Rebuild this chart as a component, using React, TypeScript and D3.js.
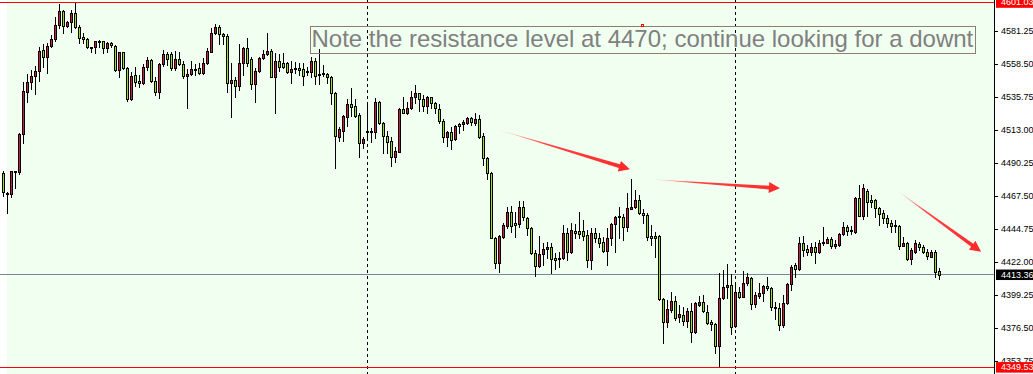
import React, { useEffect, useRef } from 'react';
import * as d3 from 'd3';

// OHLC values (one candle per bar, oldest first)
const openP = [
4483.1,4469.9,4468.6,4484.4,4483.8,4510.0,4539.4,4546.2,4550.2,4553.6,
4568.1,4563.1,4570.9,4575.7,4585.4,4595.0,4584.9,4587.2,4593.4,4583.8,
4577.3,4575.5,4570.0,4570.0,4574.1,4574.1,4569.3,4572.7,4571.1,4554.3,
4566.5,4555.5,4534.2,4550.9,4546.7,4545.2,4556.2,4561.0,4546.7,4539.0,
4558.5,4565.4,4565.4,4555.9,4561.7,4558.3,4550.4,4551.6,4555.0,4555.5,
4552.1,4559.0,4567.0,4579.7,4583.8,4579.2,4577.8,4545.2,4547.4,4543.5,
4559.0,4569.3,4561.7,4544.7,4553.8,4562.4,4565.4,4567.4,4549.7,4560.5,
4559.0,4559.4,4553.2,4555.0,4555.5,4554.8,4552.8,4553.2,4560.5,4551.6,
4551.6,4551.6,4549.3,4538.3,4508.4,4512.5,4522.1,4530.9,4529.5,4523.3,
4504.2,4512.3,4512.1,4511.4,4532.1,4518.0,4508.8,4505.4,4494.6,4498.0,
4527.5,4524.9,4527.9,4535.5,4538.3,4534.2,4529.7,4535.5,4531.8,4527.2,
4519.4,4508.4,4511.8,4506.6,4517.1,4516.9,4518.0,4521.5,4517.6,4520.6,
4508.8,4493.5,4483.1,4438.7,4421.1,4439.4,4446.8,4456.2,4448.7,4448.0,
4460.1,4452.1,4445.2,4428.0,4419.4,4427.5,4430.7,4432.5,4424.5,4423.8,
4424.5,4441.8,4429.1,4443.4,4443.4,4443.4,4440.6,4423.4,4441.8,4438.3,
4435.9,4429.6,4438.3,4448.2,4452.8,4452.8,4445.9,4458.7,4459.7,4464.7,
4455.8,4454.2,4439.9,4439.9,4439.9,4396.3,4380.8,4388.9,4395.1,4383.9,
4385.5,4381.5,4388.2,4373.9,4392.4,4394.2,4387.7,4380.4,4379.2,4364.1,
4397.0,4404.6,4406.1,4377.9,4401.1,4398.1,4407.3,4410.7,4392.8,4398.7,
4400.6,4405.4,4404.3,4391.2,4390.5,4378.6,4393.5,4406.6,4419.9,4417.0,
4435.3,4430.9,4429.1,4432.1,4429.1,4434.9,4435.3,4437.6,4433.2,4433.7,
4441.3,4446.0,4443.6,4442.9,4465.9,4453.7,4471.1,4464.7,4464.7,4459.0,
4455.6,4452.1,4448.7,4447.5,4446.8,4433.2,4435.3,4423.8,4429.1,4434.4,
4432.5,4429.1,4425.7,4429.1,4415.8];

const highP = [
4484.9,4470.2,4484.7,4484.7,4511.1,4546.2,4551.5,4554.3,4557.1,4570.0,
4572.1,4573.2,4578.5,4590.7,4600.0,4595.7,4588.3,4595.7,4601.03,4585.4,
4579.7,4576.2,4570.4,4574.5,4575.0,4574.5,4573.9,4573.6,4571.6,4567.0,
4567.0,4556.6,4553.2,4556.6,4550.9,4558.5,4563.1,4561.7,4549.7,4559.4,
4568.1,4566.5,4567.0,4567.7,4566.5,4560.5,4554.8,4560.5,4558.5,4559.0,
4562.4,4569.3,4583.1,4585.9,4585.4,4580.1,4578.9,4559.0,4549.7,4572.1,
4570.4,4576.2,4563.1,4555.5,4563.1,4568.1,4579.7,4568.6,4565.9,4565.4,
4565.9,4560.1,4560.5,4560.1,4559.0,4559.0,4556.6,4563.5,4562.4,4568.8,
4557.8,4552.5,4550.2,4539.4,4515.3,4523.3,4534.2,4541.7,4534.2,4524.5,
4508.4,4532.5,4514.2,4534.9,4533.0,4518.5,4512.5,4508.4,4501.1,4527.9,
4535.9,4532.5,4540.1,4544.0,4538.7,4537.1,4536.4,4535.9,4532.5,4530.7,
4520.4,4512.0,4515.3,4516.4,4517.6,4519.9,4522.1,4522.1,4524.5,4523.3,
4511.1,4494.6,4484.2,4439.4,4440.5,4448.7,4459.7,4460.6,4456.7,4464.2,
4464.0,4453.2,4446.3,4430.2,4439.9,4435.3,4435.9,4435.3,4428.4,4429.1,
4447.5,4445.2,4448.7,4448.0,4456.7,4450.9,4444.0,4445.2,4445.2,4441.8,
4439.4,4445.2,4448.7,4453.7,4460.1,4455.1,4469.3,4479.2,4471.6,4468.2,
4458.3,4455.6,4447.5,4442.9,4440.6,4397.0,4395.8,4401.5,4398.5,4392.4,
4391.2,4390.0,4393.5,4394.6,4398.5,4399.2,4392.4,4382.0,4379.7,4414.2,
4416.5,4420.4,4413.5,4407.3,4405.0,4415.8,4414.6,4411.9,4401.5,4407.3,
4406.1,4411.9,4405.0,4394.6,4393.5,4399.2,4407.3,4419.9,4421.1,4439.4,
4439.9,4433.7,4435.3,4436.0,4437.1,4446.0,4439.4,4439.4,4437.1,4441.8,
4449.8,4447.5,4446.8,4467.0,4475.1,4475.8,4472.1,4468.2,4465.2,4459.7,
4457.8,4454.4,4450.9,4450.9,4447.5,4439.4,4436.0,4431.4,4437.1,4436.0,
4433.7,4430.7,4430.3,4430.3,4418.1];

const lowP = [
4467.7,4455.7,4466.8,4473.0,4482.9,4504.2,4532.1,4541.0,4537.6,4546.7,
4556.4,4552.1,4570.2,4574.3,4583.5,4579.7,4583.8,4580.8,4583.1,4573.2,
4572.7,4569.3,4566.8,4565.9,4570.4,4565.9,4567.0,4570.4,4553.6,4549.3,
4554.8,4533.0,4533.7,4543.3,4542.8,4544.5,4554.3,4546.2,4537.1,4535.3,
4557.1,4557.8,4554.3,4554.3,4557.8,4549.0,4528.0,4550.9,4550.9,4551.6,
4551.6,4558.3,4566.5,4579.0,4572.1,4572.1,4539.4,4521.7,4535.9,4540.6,
4550.9,4557.3,4541.0,4532.5,4553.2,4561.7,4564.7,4549.3,4524.9,4553.8,
4555.5,4552.5,4545.2,4552.1,4550.9,4544.0,4550.9,4549.7,4544.5,4544.7,
4550.2,4545.2,4530.9,4487.0,4505.4,4505.6,4515.8,4522.6,4522.1,4494.6,
4500.9,4506.1,4504.9,4507.3,4517.1,4497.3,4496.9,4488.2,4491.1,4497.6,
4524.5,4524.0,4527.2,4531.8,4526.3,4526.1,4524.5,4528.4,4524.5,4517.6,
4504.9,4501.7,4499.7,4506.1,4510.7,4513.0,4516.9,4516.4,4516.4,4507.3,
4488.9,4479.2,4438.3,4417.6,4415.3,4438.3,4445.2,4442.8,4439.0,4446.3,
4450.9,4440.6,4427.6,4412.3,4418.7,4419.9,4424.5,4414.2,4417.0,4418.7,
4423.8,4423.4,4428.4,4438.3,4438.3,4437.1,4418.7,4417.0,4435.9,4432.1,
4429.1,4419.9,4433.7,4429.1,4438.3,4437.1,4443.6,4458.3,4459.0,4455.1,
4448.7,4437.1,4433.7,4425.6,4395.8,4366.3,4377.4,4387.7,4382.0,4380.8,
4378.6,4377.4,4367.0,4372.8,4391.7,4387.7,4379.2,4375.1,4359.0,4349.53,
4396.7,4397.0,4372.3,4377.4,4397.0,4397.6,4406.1,4389.4,4391.2,4397.0,
4395.3,4402.7,4388.9,4382.5,4375.1,4377.4,4393.0,4402.7,4411.9,4416.5,
4426.1,4426.8,4426.8,4421.1,4428.0,4433.7,4434.9,4431.4,4431.4,4433.0,
4440.6,4440.6,4441.3,4442.2,4453.7,4451.4,4453.7,4460.1,4453.2,4447.5,
4448.7,4446.3,4442.9,4442.9,4430.7,4433.0,4423.4,4420.4,4428.4,4430.3,
4428.0,4423.8,4425.2,4411.9,4410.5];

const closeP = [
4470.0,4468.8,4484.5,4484.7,4510.0,4539.9,4546.2,4550.2,4553.6,4567.4,
4563.1,4570.9,4575.7,4585.4,4595.0,4584.9,4587.2,4593.4,4583.8,4576.6,
4575.5,4570.0,4569.9,4574.1,4574.3,4569.3,4572.7,4571.6,4554.3,4566.5,
4555.5,4534.2,4550.2,4546.2,4545.2,4556.2,4561.0,4546.7,4539.0,4558.5,
4565.4,4561.9,4555.9,4561.7,4558.3,4550.4,4551.6,4555.0,4555.2,4552.1,
4559.0,4567.4,4579.7,4583.8,4579.2,4577.8,4545.2,4547.4,4543.5,4559.0,
4569.3,4559.0,4544.7,4553.8,4562.4,4565.4,4567.4,4549.7,4560.5,4556.6,
4556.6,4553.2,4554.8,4555.5,4554.5,4550.4,4553.8,4560.5,4550.4,4551.4,
4552.1,4549.3,4538.3,4508.6,4513.5,4522.6,4530.9,4529.0,4522.8,4504.2,
4506.8,4511.4,4512.3,4532.1,4517.6,4508.8,4504.9,4494.6,4498.7,4527.5,
4524.9,4527.9,4535.9,4538.7,4534.2,4529.7,4535.9,4531.4,4527.9,4519.4,
4508.4,4511.8,4506.1,4515.8,4515.8,4518.5,4521.5,4518.3,4520.4,4508.4,
4493.5,4483.1,4438.7,4421.1,4439.9,4447.5,4456.2,4446.8,4447.5,4460.1,
4452.8,4445.2,4428.0,4419.4,4427.5,4430.7,4432.5,4423.8,4423.4,4424.9,
4441.8,4429.1,4444.0,4441.8,4441.1,4439.9,4423.4,4441.8,4438.3,4435.3,
4429.6,4438.3,4448.2,4453.2,4453.7,4445.9,4459.0,4459.7,4464.7,4455.6,
4454.2,4439.4,4438.3,4438.3,4396.3,4380.8,4389.4,4395.1,4383.2,4386.1,
4381.5,4388.2,4373.9,4393.5,4394.2,4388.2,4380.1,4379.0,4364.1,4397.0,
4404.6,4406.1,4377.4,4401.1,4398.1,4407.3,4411.9,4392.8,4399.2,4400.6,
4405.4,4403.8,4391.2,4390.5,4378.6,4393.5,4406.6,4418.7,4417.0,4435.3,
4430.3,4429.1,4432.1,4429.1,4435.3,4436.0,4437.6,4433.0,4434.4,4441.3,
4446.0,4443.6,4443.8,4465.9,4453.7,4472.8,4463.6,4463.1,4459.0,4454.9,
4452.1,4448.7,4446.8,4447.3,4433.0,4435.3,4423.8,4430.3,4434.9,4432.1,
4428.7,4426.1,4429.1,4415.3,4413.36];

const tickValues = [4581.25, 4558.5, 4535.75, 4513.0, 4490.25, 4467.5, 4444.75, 4422.0, 4399.25, 4376.5, 4353.75];
const maxPrice = 4601.03;
const minPrice = 4349.53;
const lastPrice = 4413.36;
const separatorBars = [91, 183];
// arrows in (bar index, price) space
const arrowFromIdx = [123.3, 161.6, 222.9];
const arrowFromPrice = [4513.5, 4479.0, 4472.1];
const arrowToIdx = [156.6, 194.1, 244.4];
const arrowToPrice = [4485.9, 4472.8, 4429.1];
const noteText = 'Note the resistance level at 4470; continue looking for a downt';
const noteIdx = 76.7;
const notePrice = 4584.5;
const markerIdx = 159.4;
const markerPrice = 4586.1;

const W = 1033;
const H = 374;
const AXIS_X = 994;
const BULL = '#cc1a44';
const BEAR = '#98e01e';
const BG = '#f0fff0';
const AXIS_FONT = '"Liberation Sans", Arial, sans-serif';
const AXIS_SIZE = '9px';

export default function App() {
  const axisRef = useRef<SVGGElement>(null);
  const n = openP.length;
  const x = d3.scaleLinear().domain([0, n - 1]).range([3.5, 3.5 + 4 * (n - 1)]);
  const y = d3.scaleLinear().domain([4353.75, 4581.25]).range([361, 31]);

  useEffect(() => {
    if (!axisRef.current) return;
    const g = d3.select(axisRef.current);
    g.selectAll('*').remove();
    g.call(
      d3.axisRight(y)
        .tickValues(tickValues)
        .tickSize(3)
        .tickPadding(3)
        .tickFormat((d: any) => d3.format('.2f')(d))
    );
    g.select('.domain').remove();
    g.selectAll('line').attr('stroke', '#000');
    g.selectAll('text')
      .attr('fill', '#000')
      .style('font-family', AXIS_FONT)
      .style('font-size', AXIS_SIZE);
  }, []);

  const hl = (p: number) => Math.floor(y(p)) + 0.5;

  const labelBox = (p: number, bg: string, key: string) => {
    const cy = y(p);
    return (
      <g key={key}>
        <rect x={996} y={cy - 5} width={W - 996} height={10.5} fill={bg} />
        <text x={1001} y={cy} dy="0.35em" fill="#fff"
          style={{ fontFamily: AXIS_FONT, fontSize: AXIS_SIZE }}>
          {d3.format('.2f')(p)}
        </text>
      </g>
    );
  };

  const arrows = arrowFromIdx.map((_, k) => {
    const x1 = x(arrowFromIdx[k]), y1 = y(arrowFromPrice[k]);
    const x2 = x(arrowToIdx[k]), y2 = y(arrowToPrice[k]);
    const dx = x2 - x1, dy = y2 - y1;
    const L = Math.hypot(dx, dy);
    const ux = dx / L, uy = dy / L;
    const nx = -uy, ny = ux;
    const headLen = 11, headHalf = 5.5, shaft = 1.9;
    const bx = x2 - ux * headLen, by = y2 - uy * headLen;
    const pts = [
      [x1, y1],
      [bx + nx * shaft, by + ny * shaft],
      [bx + nx * headHalf, by + ny * headHalf],
      [x2, y2],
      [bx - nx * headHalf, by - ny * headHalf],
      [bx - nx * shaft, by - ny * shaft],
    ];
    return { id: `arrg${k}`, x1, y1, x2, y2, d: 'M' + pts.map(p => p.join(',')).join('L') + 'Z' };
  });

  const noteX = Math.round(x(noteIdx)) + 0.5;
  const noteY = Math.round(y(notePrice)) + 0.5;

  return (
    <div style={{ position: 'absolute', left: 0, top: 0 }}>
      <svg width={W} height={H} style={{ display: 'block' }}>
        <defs>
          {arrows.map(a => (
            <linearGradient key={a.id} id={a.id} gradientUnits="userSpaceOnUse" x1={a.x1} y1={a.y1} x2={a.x2} y2={a.y2}>
              <stop offset="0%" stopColor="#ff3030" stopOpacity={0.08} />
              <stop offset="35%" stopColor="#ff3030" stopOpacity={0.9} />
              <stop offset="100%" stopColor="#ff2828" stopOpacity={1} />
            </linearGradient>
          ))}
        </defs>
        <rect x={0} y={0} width={W} height={H} fill="#fff" />
        <rect x={7} y={0} width={AXIS_X - 7} height={H} fill={BG} />

        {separatorBars.map(s => (
          <line key={s} x1={Math.floor(x(s)) + 0.5} x2={Math.floor(x(s)) + 0.5} y1={0} y2={H}
            stroke="#000" strokeDasharray="3,3" />
        ))}

        <line x1={0} x2={AXIS_X} y1={hl(lastPrice)} y2={hl(lastPrice)} stroke="#778899" />

        {openP.map((o, i) => {
          const c = closeP[i];
          const cx = x(i);
          const yH = Math.round(y(highP[i]));
          const yL = Math.round(y(lowP[i]));
          const yT = Math.round(y(Math.max(o, c)));
          const yB = Math.round(y(Math.min(o, c)));
          const bull = c >= o;
          return (
            <g key={i}>
              <line x1={cx} x2={cx} y1={yH} y2={yL + 1} stroke="#000" />
              <rect x={cx - 1} y={yT + 0.5} width={2} height={Math.max(yB - yT, 1)}
                fill={bull ? BULL : BEAR} stroke="#000" />
            </g>
          );
        })}

        <line x1={0} x2={AXIS_X} y1={hl(maxPrice)} y2={hl(maxPrice)} stroke="#ff0000" />
        <line x1={0} x2={AXIS_X} y1={hl(minPrice)} y2={hl(minPrice)} stroke="#ff0000" />

        <rect x={noteX} y={noteY} width={665} height={27} fill="none" stroke="#8c7e70" />
        <text x={noteX + 1} y={noteY + 20.5} fill="#808080"
          style={{ fontFamily: '"Liberation Sans", Arial, sans-serif', fontSize: '24px' }}>
          {noteText}
        </text>
        <rect x={Math.round(x(markerIdx)) + 0.5} y={Math.round(y(markerPrice)) + 0.5} width={2} height={2}
          fill="none" stroke="#ff0000" />

        {arrows.map(a => (
          <path key={a.id} d={a.d} fill={`url(#${a.id})`} />
        ))}

        <line x1={AXIS_X + 0.5} x2={AXIS_X + 0.5} y1={0} y2={H} stroke="#000" />
        <g ref={axisRef} transform={`translate(${AXIS_X + 1},0)`} />

        {labelBox(maxPrice, '#ff0000', 'max')}
        {labelBox(lastPrice, '#000000', 'last')}
        {labelBox(minPrice, '#ff0000', 'min')}
      </svg>
    </div>
  );
}
